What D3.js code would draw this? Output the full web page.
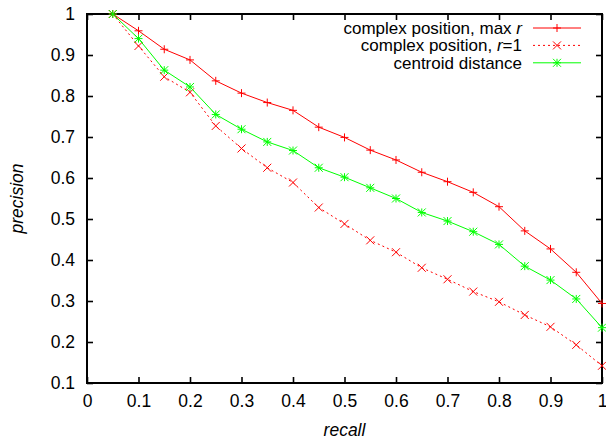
<!DOCTYPE html>
<html>
<head>
<meta charset="utf-8">
<script src="https://cdn.jsdelivr.net/npm/d3@7"></script>
<style>
  body { margin: 0; background: #fff; }
  svg { display: block; font-family: "Liberation Sans", Arial, sans-serif; }
</style>
</head>
<body>
<svg id="svg" width="606" height="439"></svg>
<script>
// DATA //
const recall = [0.05, 0.1, 0.15, 0.2, 0.25, 0.3, 0.35, 0.4, 0.45, 0.5,
  0.55, 0.6, 0.65, 0.7, 0.75, 0.8, 0.85, 0.9, 0.95, 1.0];

const maxR = [1.0, 0.959, 0.914, 0.888, 0.837, 0.807, 0.784, 0.765, 0.724, 0.699,
  0.668, 0.644, 0.614, 0.591, 0.565, 0.530, 0.471, 0.427, 0.370, 0.294];

const r1 = [1.0, 0.922, 0.847, 0.809, 0.727, 0.672, 0.625, 0.589, 0.528, 0.488,
  0.448, 0.419, 0.381, 0.353, 0.323, 0.298, 0.266, 0.237, 0.193, 0.142];

const centroid = [1.0, 0.940, 0.863, 0.822, 0.755, 0.719, 0.688, 0.667, 0.625, 0.602,
  0.576, 0.550, 0.516, 0.495, 0.469, 0.438, 0.385, 0.351, 0.305, 0.235];

const xTicks = [0, 0.1, 0.2, 0.3, 0.4, 0.5, 0.6, 0.7, 0.8, 0.9, 1];
const yTicks = [0.1, 0.2, 0.3, 0.4, 0.5, 0.6, 0.7, 0.8, 0.9, 1];

// Series table for drawing
const series = [
  {values: maxR, color: "#ff0000", dash: null, marker: "plus"},
  {values: r1, color: "#ff0000", dash: "2,3", marker: "cross"},
  {values: centroid, color: "#00ff00", dash: null, marker: "star"}
];

// MAIN //
const svg = d3.select("#svg");
const margin = {top: 14, right: 4, bottom: 56, left: 87};
const width = 606 - margin.left - margin.right;
const height = 439 - margin.top - margin.bottom;
const fontSize = "17.5px";

const g = svg.append("g")
  .attr("transform", `translate(${margin.left},${margin.top})`);

const x = d3.scaleLinear().domain([0, 1]).range([0, width]);
const y = d3.scaleLinear().domain([0.1, 1]).range([height, 0]);

const tickFmt = d => d === 0 || d === 1 ? String(d) : d.toFixed(1);

// Axes: ticks drawn inward, mirrored on top and right
function styleAxis(sel) {
  sel.select(".domain").remove();
  sel.selectAll(".tick line").attr("stroke", "#000").attr("stroke-width", 1.6);
  sel.selectAll(".tick text").attr("fill", "#000").style("font-size", fontSize);
}

g.append("g")
  .attr("transform", `translate(0,${height})`)
  .call(d3.axisBottom(x).tickValues(xTicks).tickFormat(tickFmt).tickSizeInner(-6).tickPadding(12))
  .call(styleAxis);

g.append("g")
  .call(d3.axisTop(x).tickValues(xTicks).tickFormat("").tickSizeInner(-6))
  .call(styleAxis);

g.append("g")
  .call(d3.axisLeft(y).tickValues(yTicks).tickFormat(tickFmt).tickSizeInner(-6).tickPadding(12))
  .call(styleAxis);

g.append("g")
  .attr("transform", `translate(${width},0)`)
  .call(d3.axisRight(y).tickValues(yTicks).tickFormat("").tickSizeInner(-6))
  .call(styleAxis);

// Frame
g.append("rect")
  .attr("width", width)
  .attr("height", height)
  .attr("fill", "none")
  .attr("stroke", "#000")
  .attr("stroke-width", 2);

// Axis titles
svg.append("text")
  .attr("x", margin.left + width / 2)
  .attr("y", 436)
  .attr("text-anchor", "middle")
  .style("font-size", fontSize)
  .style("font-style", "italic")
  .text("recall");

svg.append("text")
  .attr("transform", `translate(23,${margin.top + height / 2}) rotate(-90)`)
  .attr("text-anchor", "middle")
  .style("font-size", fontSize)
  .style("font-style", "italic")
  .text("precision");

// Marker path (centered at 0,0)
function markerPath(type) {
  const s = 4;
  const p = d3.path();
  if (type === "plus" || type === "star") {
    p.moveTo(-s, 0); p.lineTo(s, 0);
    p.moveTo(0, -s); p.lineTo(0, s);
  }
  if (type === "cross" || type === "star") {
    p.moveTo(-s, -s); p.lineTo(s, s);
    p.moveTo(-s, s); p.lineTo(s, -s);
  }
  return p.toString();
}

const line = d3.line()
  .x((d, i) => x(recall[i]))
  .y(d => y(d));

series.forEach(s => {
  g.append("path")
    .datum(s.values)
    .attr("fill", "none")
    .attr("stroke", s.color)
    .attr("stroke-width", 1)
    .attr("stroke-dasharray", s.dash)
    .attr("d", line);

  g.append("g")
    .selectAll("path")
    .data(s.values)
    .enter()
    .append("path")
    .attr("transform", (d, i) => `translate(${x(recall[i])},${y(d)})`)
    .attr("d", markerPath(s.marker))
    .attr("stroke", s.color)
    .attr("stroke-width", 1)
    .attr("fill", "none");
});

// Legend
const legendLabels = [
  [["complex position, max ", false], ["r", true]],
  [["complex position, ", false], ["r", true], ["=1", false]],
  [["centroid distance", false]]
];

const legend = svg.append("g").attr("class", "legend");

legendLabels.forEach((parts, i) => {
  const ly = 28 + i * 17.4;
  const t = legend.append("text")
    .attr("x", 522)
    .attr("y", ly)
    .attr("dy", "0.35em")
    .attr("text-anchor", "end")
    .style("font-size", "17px");
  parts.forEach(([txt, it]) => {
    t.append("tspan").style("font-style", it ? "italic" : "normal").text(txt);
  });

  const s = series[i];
  legend.append("line")
    .attr("x1", 533).attr("x2", 581)
    .attr("y1", ly).attr("y2", ly)
    .attr("stroke", s.color)
    .attr("stroke-width", 1)
    .attr("stroke-dasharray", s.dash);

  legend.append("path")
    .attr("transform", `translate(557,${ly})`)
    .attr("d", markerPath(s.marker))
    .attr("stroke", s.color)
    .attr("fill", "none");
});
</script>
</body>
</html>
